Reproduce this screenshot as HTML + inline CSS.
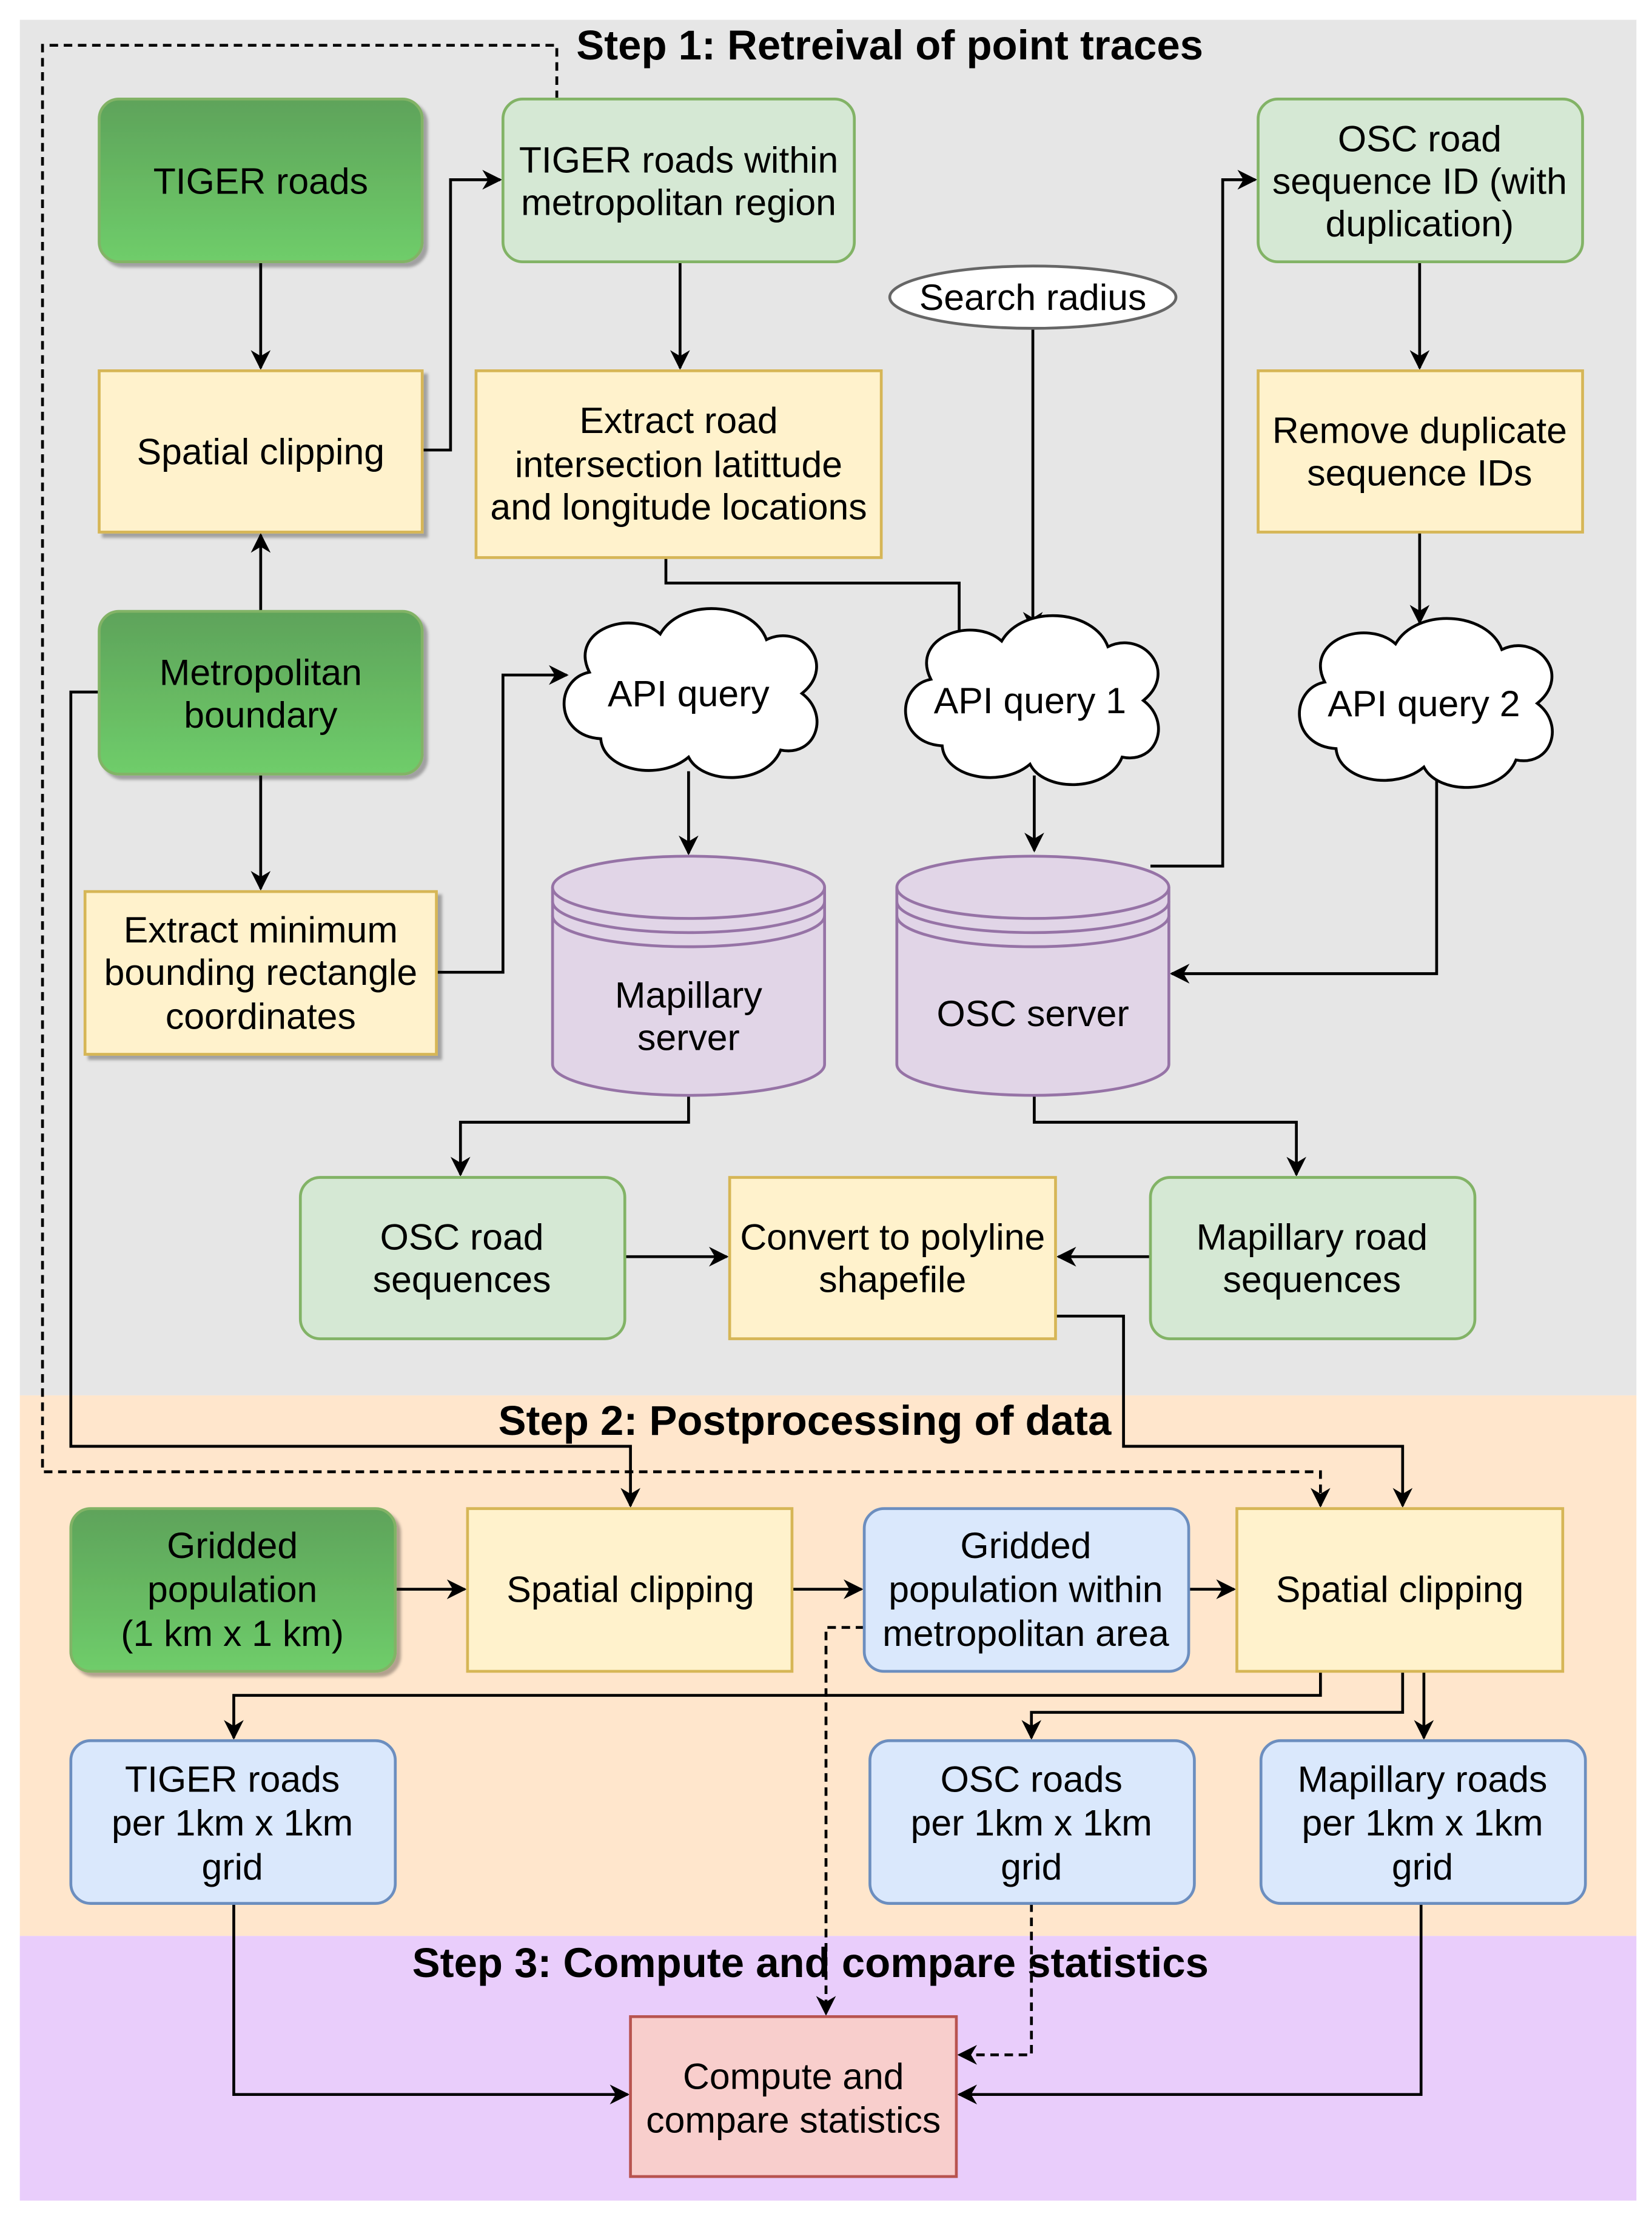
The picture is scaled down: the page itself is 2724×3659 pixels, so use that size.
<!DOCTYPE html>
<html><head><meta charset="utf-8"><style>
html,body{margin:0;padding:0;background:#fff}
svg{display:block}
text{font-family:"Liberation Sans",sans-serif;font-size:26px;fill:#000}
.t{font-weight:bold;font-size:29.5px}
</style></head><body>
<svg width="2724" height="3659" viewBox="0 0 1166 1568" preserveAspectRatio="none" xmlns="http://www.w3.org/2000/svg">
<defs>
<marker id="a" viewBox="0 0 10 10" refX="9" refY="5" markerWidth="14" markerHeight="14" markerUnits="userSpaceOnUse" orient="auto"><path d="M0,0 L10,5 L0,10 L3,5 z" fill="#000"/></marker>
<linearGradient id="g" x1="0" y1="0" x2="0" y2="1"><stop offset="0" stop-color="#5ea35a"/><stop offset="1" stop-color="#6fcd6a"/></linearGradient>
<filter id="s"><feDropShadow dx="3" dy="3" stdDeviation="1" flood-color="#000" flood-opacity="0.3"/></filter>
<path id="cl" d="M-62,32 C-95,30 -95,-10 -70,-15 C-85,-45 -40,-60 -20,-42 C-5,-68 45,-65 55,-38 C80,-50 105,-20 80,0 C100,15 90,45 65,40 C55,65 10,65 0,45 C-20,62 -60,55 -62,32 z"/>
</defs>
<rect x="14" y="14" width="1141" height="972" fill="#e6e6e6"/>
<rect x="14" y="986" width="1141" height="382" fill="#ffe6cc"/>
<rect x="14" y="1368" width="1141" height="187" fill="#e9cdfb"/>
<g stroke="#000" stroke-width="2" fill="none">
<path d="M184,185V260" marker-end="url(#a)"/>
<path d="M298,318H318V127H353" marker-end="url(#a)"/>
<path d="M184,432V378" marker-end="url(#a)"/>
<path d="M184,547V628" marker-end="url(#a)"/>
<path d="M308,687H355V477H400" marker-end="url(#a)"/>
<path d="M480,185V260" marker-end="url(#a)"/>
<path d="M470,394V412H677V460" marker-end="url(#a)"/>
<path d="M729,232V445" marker-end="url(#a)"/>
<path d="M1002,185V260" marker-end="url(#a)"/>
<path d="M1002,376V440" marker-end="url(#a)"/>
<path d="M486,545V603" marker-end="url(#a)"/>
<path d="M730,548V601" marker-end="url(#a)"/>
<path d="M1014,550V688H827" marker-end="url(#a)"/>
<path d="M812,612H863V127H886" marker-end="url(#a)"/>
<path d="M486,775V793H325V830" marker-end="url(#a)"/>
<path d="M730,775V793H915V830" marker-end="url(#a)"/>
<path d="M441,888H513" marker-end="url(#a)"/>
<path d="M812,888H747" marker-end="url(#a)"/>
<path d="M745,930H793V1022H990V1064" marker-end="url(#a)"/>
<path d="M70,489H50V1022H445V1064" marker-end="url(#a)"/>
<path d="M393,70V32H30V1040H932V1064" stroke-dasharray="6,4" marker-end="url(#a)"/>
<path d="M279,1123H328" marker-end="url(#a)"/>
<path d="M559,1123H608" marker-end="url(#a)"/>
<path d="M839,1123H871" marker-end="url(#a)"/>
<path d="M932,1181V1198H165V1228" marker-end="url(#a)"/>
<path d="M990,1181V1210H728V1228" marker-end="url(#a)"/>
<path d="M1005,1181V1228" marker-end="url(#a)"/>
<path d="M610,1150H583V1423" stroke-dasharray="6,4" marker-end="url(#a)"/>
<path d="M728,1345V1452H677" stroke-dasharray="6,4" marker-end="url(#a)"/>
<path d="M165,1345V1480H443" marker-end="url(#a)"/>
<path d="M1003,1345V1480H677" marker-end="url(#a)"/>
</g>
<text class="t" x="628" y="42" text-anchor="middle">Step 1: Retreival of point traces</text>
<text class="t" x="568" y="1014" text-anchor="middle">Step 2: Postprocessing of data</text>
<text class="t" x="572" y="1397" text-anchor="middle">Step 3: Compute and compare statistics</text>
<g stroke-width="2" filter="url(#s)">
<rect x="70" y="70" width="228" height="115" rx="14" fill="url(#g)" stroke="#82b366"/>
<rect x="70" y="432" width="228" height="115" rx="14" fill="url(#g)" stroke="#82b366"/>
<rect x="50" y="1066" width="229" height="115" rx="14" fill="url(#g)" stroke="#82b366"/>
<rect x="70" y="262" width="228" height="114" fill="#fff2cc" stroke="#d6b656"/>
<rect x="60" y="630" width="248" height="115" fill="#fff2cc" stroke="#d6b656"/>
</g>
<g stroke-width="2">
<rect x="355" y="70" width="248" height="115" rx="14" fill="#d5e8d4" stroke="#82b366"/>
<rect x="888" y="70" width="229" height="115" rx="14" fill="#d5e8d4" stroke="#82b366"/>
<rect x="212" y="832" width="229" height="114" rx="14" fill="#d5e8d4" stroke="#82b366"/>
<rect x="812" y="832" width="229" height="114" rx="14" fill="#d5e8d4" stroke="#82b366"/>
<rect x="336" y="262" width="286" height="132" fill="#fff2cc" stroke="#d6b656"/>
<rect x="888" y="262" width="229" height="114" fill="#fff2cc" stroke="#d6b656"/>
<rect x="515" y="832" width="230" height="114" fill="#fff2cc" stroke="#d6b656"/>
<rect x="330" y="1066" width="229" height="115" fill="#fff2cc" stroke="#d6b656"/>
<rect x="873" y="1066" width="230" height="115" fill="#fff2cc" stroke="#d6b656"/>
<rect x="610" y="1066" width="229" height="115" rx="14" fill="#dae8fc" stroke="#6c8ebf"/>
<rect x="50" y="1230" width="229" height="115" rx="14" fill="#dae8fc" stroke="#6c8ebf"/>
<rect x="614" y="1230" width="229" height="115" rx="14" fill="#dae8fc" stroke="#6c8ebf"/>
<rect x="890" y="1230" width="229" height="115" rx="14" fill="#dae8fc" stroke="#6c8ebf"/>
<rect x="445" y="1425" width="230" height="113" fill="#f8cecc" stroke="#b85450"/>
<ellipse cx="729" cy="210" rx="101" ry="22" fill="#fff" stroke="#666"/>
<use href="#cl" x="486" y="490" fill="#fff" stroke="#000"/>
<use href="#cl" x="727" y="495" fill="#fff" stroke="#000"/>
<use href="#cl" x="1005" y="497" fill="#fff" stroke="#000"/>
<g fill="#e1d5e7" stroke="#9673a6">
<path d="M390,627 V752 A96,22 0 0 0 582,752 V627 A96,22 0 0 0 390,627 z"/>
<path d="M390,627 A96,22 0 0 0 582,627 M390,637 A96,22 0 0 0 582,637 M390,647 A96,22 0 0 0 582,647" fill="none"/>
<path d="M633,627 V752 A96,22 0 0 0 825,752 V627 A96,22 0 0 0 633,627 z"/>
<path d="M633,627 A96,22 0 0 0 825,627 M633,637 A96,22 0 0 0 825,637 M633,647 A96,22 0 0 0 825,647" fill="none"/>
</g>
</g>
<g text-anchor="middle">
<text x="184" y="137">TIGER roads</text>
<text x="184" y="328">Spatial clipping</text>
<text x="184" y="484">Metropolitan</text><text x="184" y="514">boundary</text>
<text x="184" y="666">Extract minimum</text><text x="184" y="696">bounding rectangle</text><text x="184" y="727">coordinates</text>
<text x="479" y="122">TIGER roads within</text><text x="479" y="152">metropolitan region</text>
<text x="479" y="306">Extract road</text><text x="479" y="337">intersection latittude</text><text x="479" y="367">and longitude locations</text>
<text x="729" y="219">Search radius</text>
<text x="1002" y="107">OSC road</text><text x="1002" y="137">sequence ID (with</text><text x="1002" y="167">duplication)</text>
<text x="1002" y="313">Remove duplicate</text><text x="1002" y="343">sequence IDs</text>
<text x="486" y="499">API query</text>
<text x="727" y="504">API query 1</text>
<text x="1005" y="506">API query 2</text>
<text x="486" y="712">Mapillary</text><text x="486" y="742">server</text>
<text x="729" y="725">OSC server</text>
<text x="326" y="883">OSC road</text><text x="326" y="913">sequences</text>
<text x="630" y="883">Convert to polyline</text><text x="630" y="913">shapefile</text>
<text x="926" y="883">Mapillary road</text><text x="926" y="913">sequences</text>
<text x="164" y="1101">Gridded</text><text x="164" y="1132">population</text><text x="164" y="1163">(1 km x 1 km)</text>
<text x="445" y="1132">Spatial clipping</text>
<text x="724" y="1101">Gridded</text><text x="724" y="1132">population within</text><text x="724" y="1163">metropolitan area</text>
<text x="988" y="1132">Spatial clipping</text>
<text x="164" y="1266">TIGER roads</text><text x="164" y="1297">per 1km x 1km</text><text x="164" y="1328">grid</text>
<text x="728" y="1266">OSC roads</text><text x="728" y="1297">per 1km x 1km</text><text x="728" y="1328">grid</text>
<text x="1004" y="1266">Mapillary roads</text><text x="1004" y="1297">per 1km x 1km</text><text x="1004" y="1328">grid</text>
<text x="560" y="1476">Compute and</text><text x="560" y="1507">compare statistics</text>
</g>
</svg>
</body></html>
